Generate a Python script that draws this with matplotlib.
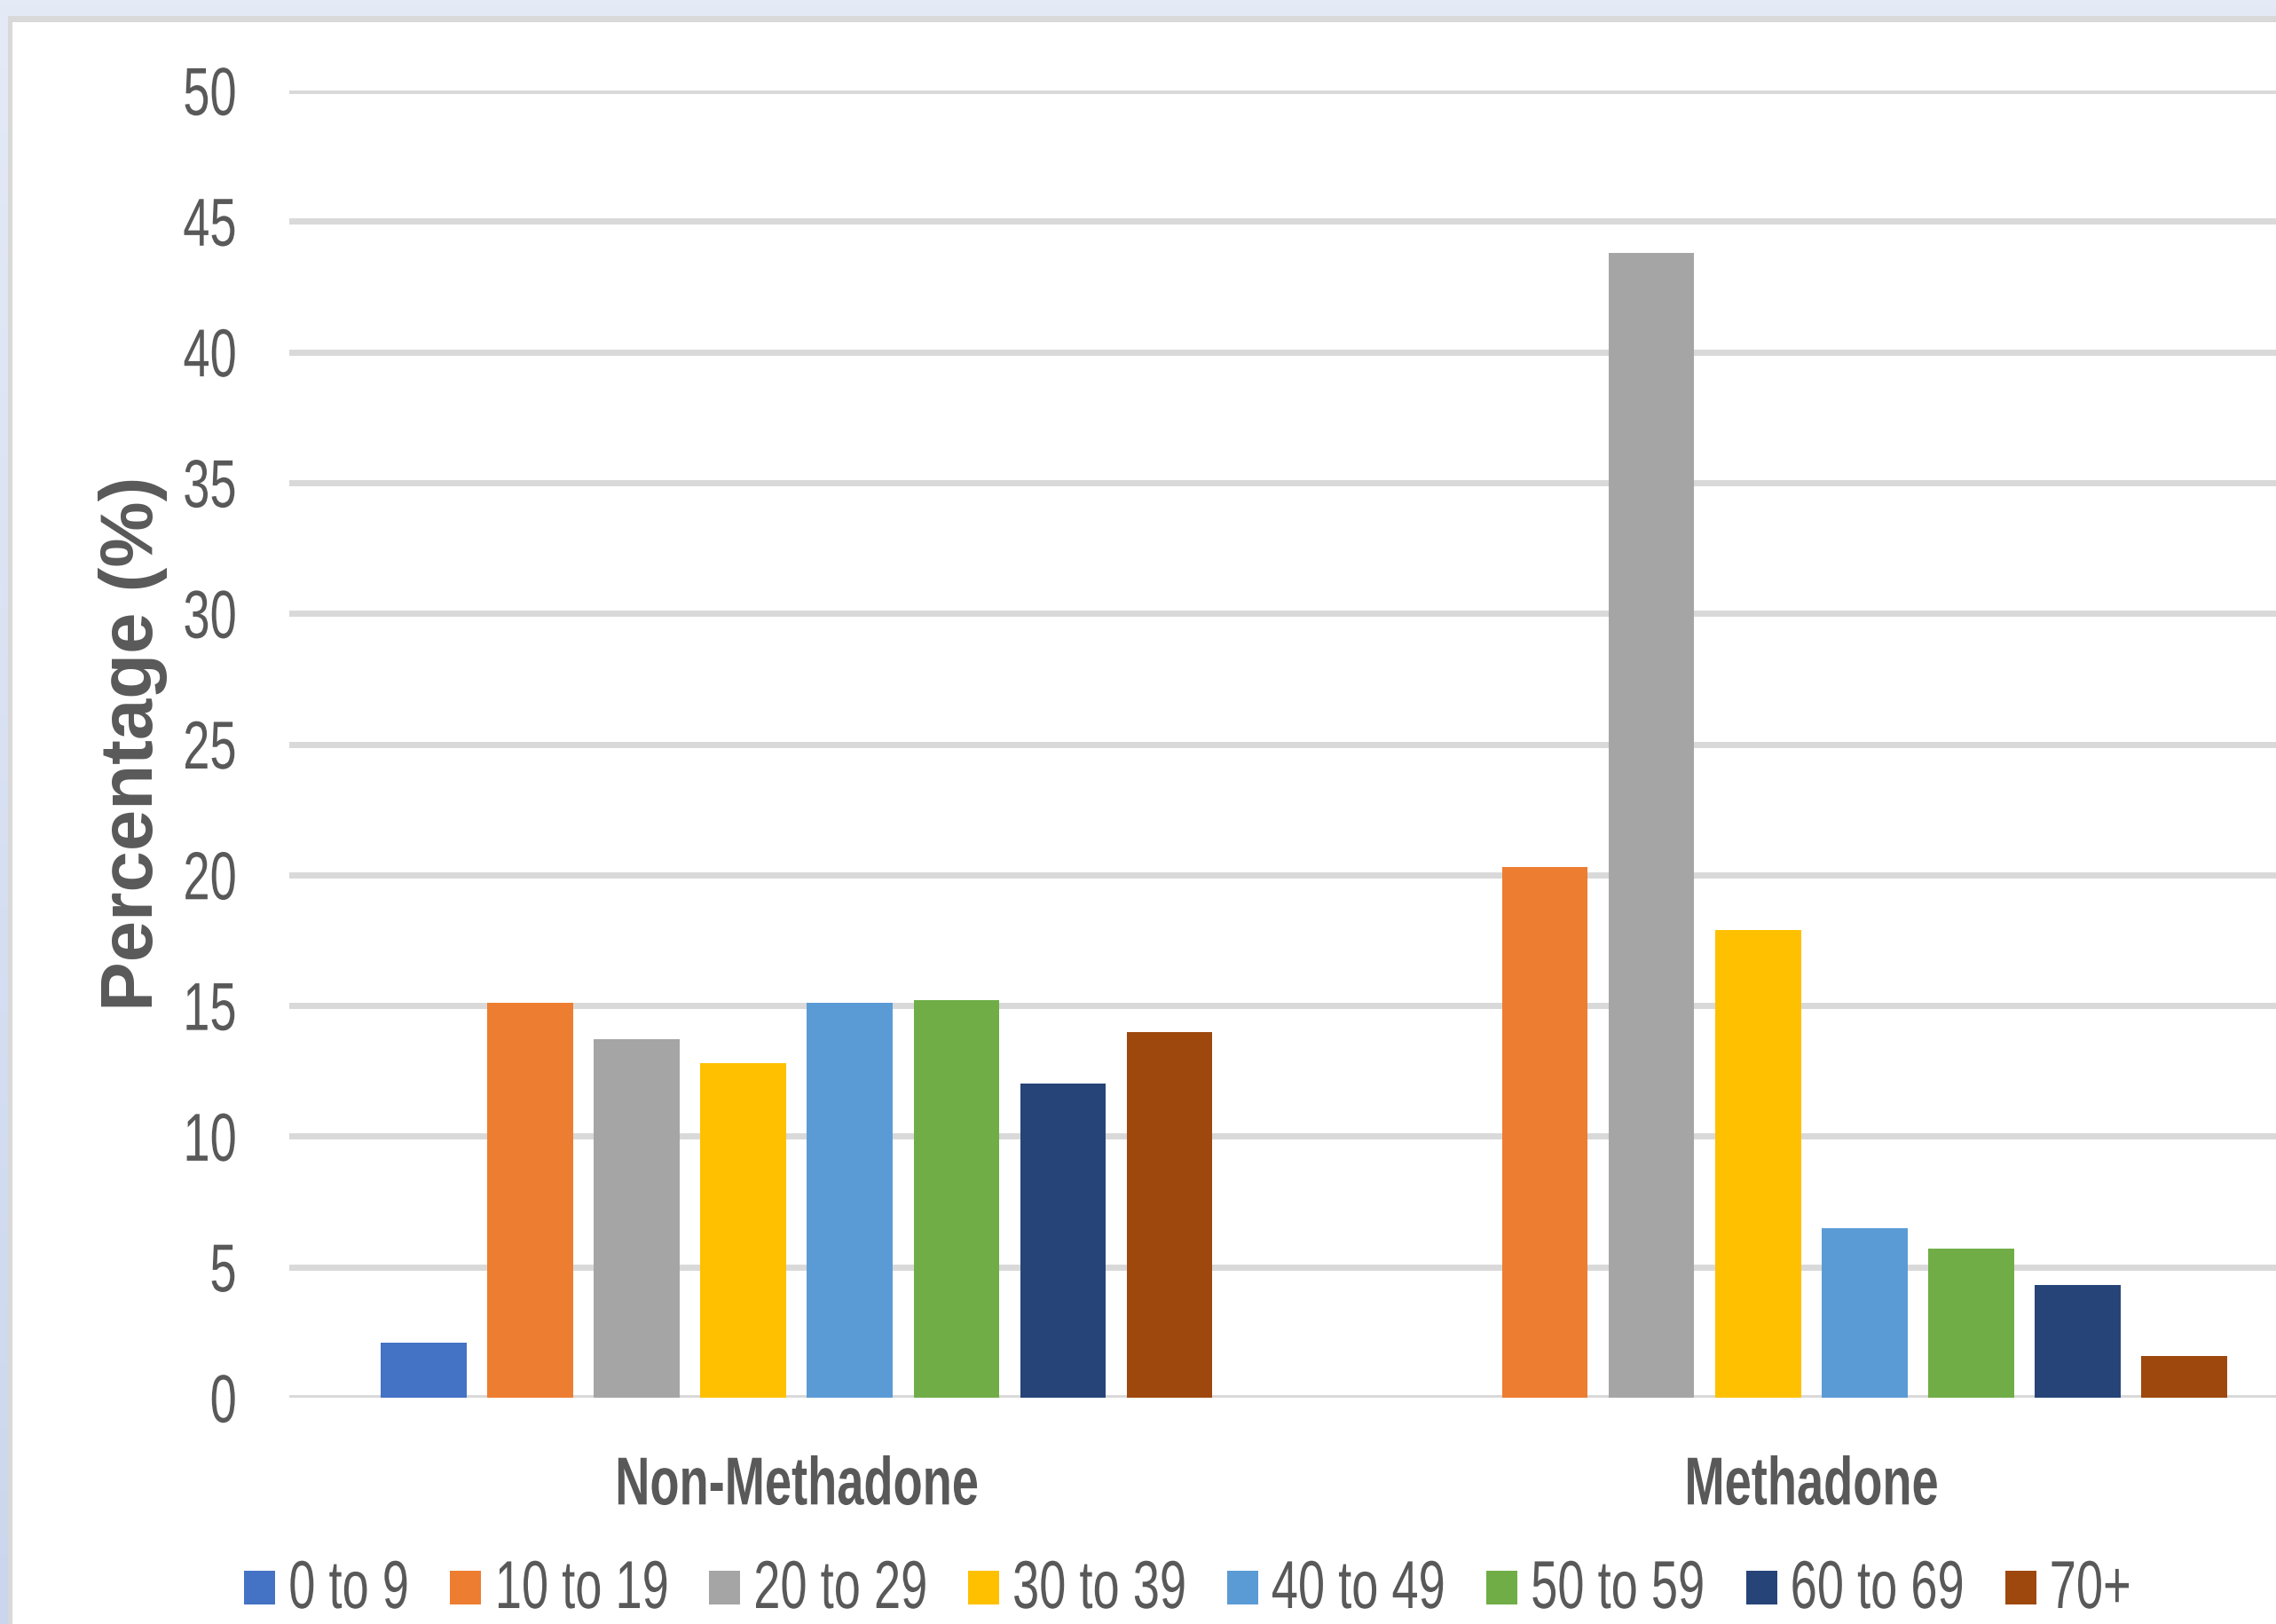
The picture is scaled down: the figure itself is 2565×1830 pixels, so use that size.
import numpy as np
import matplotlib
matplotlib.use("Agg")
import matplotlib.pyplot as plt
from matplotlib.colors import LinearSegmentedColormap
from matplotlib.patches import Rectangle
from matplotlib.patheffects import AbstractPathEffect
from matplotlib.transforms import Affine2D

# age bands and their share in each group (%)
groups = ["Non-Methadone", "Methadone"]
age_bands = ["0 to 9", "10 to 19", "20 to 29", "30 to 39",
             "40 to 49", "50 to 59", "60 to 69", "70+"]
non_methadone = [2.1, 15.1, 13.7, 12.8, 15.1, 15.2, 12.0, 14.0]
methadone = [0.0, 20.3, 43.8, 17.9, 6.5, 5.7, 4.3, 1.6]
colors = ["#4472C4", "#ED7D31", "#A5A5A5", "#FFC000",
          "#5B9BD5", "#70AD47", "#264478", "#9E480E"]


class Squeeze(AbstractPathEffect):
    """Draw text narrower than the font, pinned at one side or its middle."""

    def __init__(self, sx=0.71, anchor="center"):
        super().__init__()
        self.sx = sx
        self.anchor = anchor

    def draw_path(self, renderer, gc, tpath, affine, rgbFace=None):
        ext = tpath.get_extents(affine)
        if self.anchor == "left":
            x0 = ext.x0
        elif self.anchor == "right":
            x0 = ext.x1
        else:
            x0 = (ext.x0 + ext.x1) / 2
        squash = Affine2D().translate(-x0, 0).scale(self.sx, 1).translate(x0, 0)
        renderer.draw_path(gc, tpath, affine + squash, rgbFace)


font = ["Liberation Sans", "DejaVu Sans"]
text_col = "#595959"
fsize = 55
SX = 0.71

W, H = 2565, 1831
fig = plt.figure(figsize=(W / 100, H / 100), dpi=100)

# pale blue backdrop with a grey frame and white chart area
bg = fig.add_axes([0, 0, 1, 1], zorder=-10)
cmap = LinearSegmentedColormap.from_list("bg", ["#E4EAF6", "#CBD6EE"])
bg.imshow(np.linspace(0, 1, 256).reshape(-1, 1), aspect="auto", cmap=cmap,
          extent=[0, 1, 0, 1])
bg.add_patch(Rectangle((9 / W, 0), 1, 1 - 19 / H, color="#D9D9D9", lw=0))
bg.add_patch(Rectangle((14 / W, 0), 1, 1 - 26 / H, color="white", lw=0))
bg.set_xlim(0, 1)
bg.set_ylim(0, 1)
bg.axis("off")

ax = fig.add_axes([326 / W, 1 - 1576 / H, 2287 / W, 1473 / H])
ax.patch.set_alpha(0)

x = np.arange(len(groups))
step = 0.105
width = 0.0845
for i, band in enumerate(age_bands):
    vals = [non_methadone[i], methadone[i]]
    ax.bar(x + (i - 3.5) * step, vals, width, color=colors[i], zorder=3)

ax.set_xlim(-0.5, 1.5)
ax.set_ylim(0, 50)
ax.yaxis.grid(True, color="#D9D9D9", linewidth=5, zorder=0)
ax.set_axisbelow(True)
for s in ax.spines.values():
    s.set_visible(False)

yt = np.arange(0, 51, 5)
ax.set_yticks(yt, labels=[str(v) for v in yt], family=font, fontsize=fsize,
              color=text_col, path_effects=[Squeeze(SX, "right")])
ax.set_xticks(x, labels=groups, family=font, fontsize=fsize,
              fontweight="bold", color=text_col,
              path_effects=[Squeeze(SX, "center")])
ax.tick_params(axis="x", length=0, pad=47)
ax.tick_params(axis="y", length=0, pad=42)

fig.text(150 / W, 1 - 838 / H, "Percentage (%)", rotation=90, ha="center",
         va="center", fontsize=60, fontweight="bold", color=text_col,
         family=font)

# legend row along the bottom: square key, then its label
renderer = fig.canvas.get_renderer()
key_w, key_pad, gap = 35, 14, 47
base_y = 1813
texts = []
widths = []
for band in age_bands:
    t = fig.text(0, 1 - base_y / H, band, ha="left", va="baseline",
                 fontsize=fsize, family=font, color=text_col,
                 path_effects=[Squeeze(SX, "left")])
    texts.append(t)
    bb = t.get_window_extent(renderer)
    widths.append(bb.width * SX)
total = sum(key_w + key_pad + w for w in widths) + gap * (len(widths) - 1)
xpos = 1338 - total / 2
for t, w, c in zip(texts, widths, colors):
    fig.patches.append(Rectangle((xpos / W, 1 - (base_y - 4) / H), key_w / W,
                                 38 / H, transform=fig.transFigure,
                                 figure=fig, color=c, lw=0))
    t.set_x((xpos + key_w + key_pad) / W)
    xpos += key_w + key_pad + w + gap

fig.savefig("out.png", dpi=100)
